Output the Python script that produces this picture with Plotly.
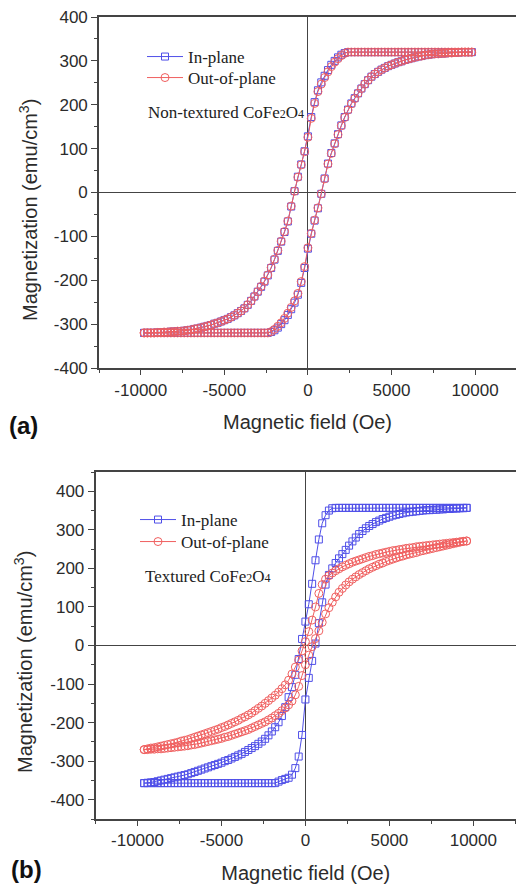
import plotly.graph_objects as go

# Applied field sweeps (Oe)
FIELD_A = [-9800, -9600, -9400, -9200, -9000, -8800, -8600, -8400, -8200, -8000,
           -7800, -7600, -7400, -7200, -7000, -6800, -6600, -6400, -6200, -6000,
           -5800, -5600, -5400, -5200, -5000, -4800, -4600, -4400, -4200, -4000,
           -3800, -3600, -3400, -3200, -3000, -2800, -2600, -2400, -2200, -2000,
           -1800, -1600, -1400, -1200, -1000, -800, -600, -400, -200, 0,
           200, 400, 600, 800, 1000, 1200, 1400, 1600, 1800, 2000,
           2200, 2400, 2600, 2800, 3000, 3200, 3400, 3600, 3800, 4000,
           4200, 4400, 4600, 4800, 5000, 5200, 5400, 5600, 5800, 6000,
           6200, 6400, 6600, 6800, 7000, 7200, 7400, 7600, 7800, 8000,
           8200, 8400, 8600, 8800, 9000, 9200, 9400, 9600, 9800]

FIELD_B = [-9600, -9400, -9200, -9000, -8800, -8600, -8400, -8200, -8000,
           -7800, -7600, -7400, -7200, -7000, -6800, -6600, -6400, -6200, -6000,
           -5800, -5600, -5400, -5200, -5000, -4800, -4600, -4400, -4200, -4000,
           -3800, -3600, -3400, -3200, -3000, -2800, -2600, -2400, -2200, -2000,
           -1800, -1600, -1400, -1200, -1000, -800, -600, -400, -200, 0,
           200, 400, 600, 800, 1000, 1200, 1400, 1600, 1800, 2000,
           2200, 2400, 2600, 2800, 3000, 3200, 3400, 3600, 3800, 4000,
           4200, 4400, 4600, 4800, 5000, 5200, 5400, 5600, 5800, 6000,
           6200, 6400, 6600, 6800, 7000, 7200, 7400, 7600, 7800, 8000,
           8200, 8400, 8600, 8800, 9000, 9200, 9400, 9600]

# Magnetization (emu/cm^3), listed in order of increasing field.
# "desc" = branch swept from +H to -H, "asc" = branch swept from -H to +H.

# (a) non-textured film
A_IN_DESC = [-320, -320, -320, -320, -319, -319, -318, -318, -317, -317,
             -316, -316, -315, -314, -313, -311, -310, -308, -306, -304,
             -302, -299, -297, -294, -291, -288, -284, -280, -275, -270,
             -264, -256, -247, -237, -226, -215, -203, -189, -172, -153,
             -133, -112, -90, -66, -32, 3, 36, 64, 94, 128,
             172, 206, 233, 251, 266, 279, 291, 300, 308, 314,
             318, 320, 320, 320, 320, 320, 320, 320, 320, 320,
             320, 320, 320, 320, 320, 320, 320, 320, 320, 320,
             320, 320, 320, 320, 320, 320, 320, 320, 320, 320,
             320, 320, 320, 320, 320, 320, 320, 320, 320]
A_IN_ASC = [-320, -320, -320, -320, -320, -320, -320, -320, -320, -320,
            -320, -320, -320, -320, -320, -320, -320, -320, -320, -320,
            -320, -320, -320, -320, -320, -320, -320, -320, -320, -320,
            -320, -320, -320, -320, -320, -320, -320, -320, -318, -314,
            -308, -300, -291, -279, -266, -251, -233, -206, -172, -128,
            -94, -64, -36, -3, 32, 66, 90, 112, 133, 153,
            172, 189, 203, 215, 226, 237, 247, 256, 264, 270,
            275, 280, 284, 288, 291, 294, 297, 299, 302, 304,
            306, 308, 310, 311, 313, 314, 315, 316, 316, 317,
            317, 318, 318, 319, 319, 320, 320, 320, 320]
A_OUT_DESC = [-320, -320, -320, -320, -319, -319, -318, -318, -317, -317,
              -316, -316, -315, -314, -313, -311, -310, -308, -306, -304,
              -302, -299, -297, -294, -291, -288, -284, -280, -275, -270,
              -264, -256, -247, -237, -226, -214, -202, -188, -171, -152,
              -132, -111, -89, -65, -31, 3, 35, 63, 93, 126,
              169, 203, 230, 247, 262, 275, 287, 297, 305, 312,
              317, 320, 320, 320, 320, 320, 320, 320, 320, 320,
              320, 320, 320, 320, 320, 320, 320, 320, 320, 320,
              320, 320, 320, 320, 320, 320, 320, 320, 320, 320,
              320, 320, 320, 320, 320, 320, 320, 320, 320]
A_OUT_ASC = [-320, -320, -320, -320, -320, -320, -320, -320, -320, -320,
             -320, -320, -320, -320, -320, -320, -320, -320, -320, -320,
             -320, -320, -320, -320, -320, -320, -320, -320, -320, -320,
             -320, -320, -320, -320, -320, -320, -320, -320, -317, -312,
             -305, -297, -287, -275, -262, -247, -230, -203, -169, -126,
             -93, -63, -35, -3, 31, 65, 89, 111, 132, 152,
             171, 188, 202, 214, 226, 237, 247, 256, 264, 270,
             275, 280, 284, 288, 291, 294, 297, 299, 302, 304,
             306, 308, 310, 311, 313, 314, 315, 316, 316, 317,
             317, 318, 318, 319, 319, 320, 320, 320, 320]

# (b) textured film
B_IN_DESC = [-357, -356, -355, -354, -352, -350, -348, -346, -344,
             -342, -340, -338, -336, -334, -331, -328, -325, -322, -319,
             -316, -313, -310, -307, -304, -300, -297, -293, -289, -285,
             -281, -276, -271, -266, -261, -255, -249, -242, -233, -223,
             -212, -199, -183, -160, -134, -108, -76, -35, 17, 62,
             107, 160, 221, 275, 317, 338, 350, 356, 357, 357,
             357, 357, 357, 357, 357, 357, 357, 357, 357, 357,
             357, 357, 357, 357, 357, 357, 357, 357, 357, 357,
             357, 357, 357, 357, 357, 357, 357, 357, 357, 357,
             357, 357, 357, 357, 357, 357, 357, 357]
B_IN_ASC = [-357, -357, -357, -357, -357, -357, -357, -357, -357,
            -357, -357, -357, -357, -357, -357, -357, -357, -357, -357,
            -357, -357, -357, -357, -357, -357, -357, -357, -357, -357,
            -357, -357, -357, -357, -357, -357, -357, -357, -357, -357,
            -357, -353, -349, -346, -343, -335, -318, -288, -232, -140,
            -84, -40, 5, 58, 112, 158, 183, 200, 214, 226,
            237, 248, 259, 270, 280, 289, 297, 304, 310, 315,
            320, 324, 328, 331, 334, 337, 339, 341, 343, 345,
            346, 347, 348, 349, 350, 351, 351, 352, 352, 353,
            353, 354, 354, 355, 355, 356, 356, 357]
B_OUT_DESC = [-270, -268, -266, -265, -263, -261, -259, -257, -255,
              -253, -251, -248, -246, -244, -241, -238, -235, -232, -229,
              -226, -223, -220, -217, -213, -210, -206, -202, -198, -194,
              -189, -185, -180, -175, -169, -163, -157, -150, -143, -136,
              -129, -121, -112, -102, -90, -74, -56, -38, -14, 10,
              36, 66, 100, 135, 158, 172, 181, 188, 194, 199,
              204, 208, 212, 216, 219, 222, 225, 228, 231, 233,
              236, 238, 240, 242, 244, 246, 247, 249, 250, 252,
              253, 254, 256, 257, 258, 259, 260, 261, 262, 263,
              264, 265, 266, 267, 268, 269, 270, 271]
B_OUT_ASC = [-270, -270, -269, -269, -268, -268, -267, -266, -265,
             -264, -263, -262, -261, -260, -258, -257, -255, -253, -251,
             -249, -247, -245, -243, -241, -238, -236, -233, -230, -227,
             -224, -221, -218, -214, -210, -206, -202, -198, -193, -188,
             -182, -176, -169, -162, -154, -144, -128, -106, -78, -50,
             -25, -3, 18, 38, 60, 82, 98, 112, 126, 138,
             148, 157, 165, 172, 178, 184, 189, 194, 199, 203,
             207, 211, 214, 218, 221, 224, 227, 230, 232, 235,
             237, 239, 241, 244, 246, 248, 250, 252, 254, 256,
             258, 260, 262, 264, 266, 268, 270, 271]

for name, field, arr in [("A_IN_DESC", FIELD_A, A_IN_DESC), ("A_IN_ASC", FIELD_A, A_IN_ASC),
                         ("A_OUT_DESC", FIELD_A, A_OUT_DESC), ("A_OUT_ASC", FIELD_A, A_OUT_ASC),
                         ("B_IN_DESC", FIELD_B, B_IN_DESC), ("B_IN_ASC", FIELD_B, B_IN_ASC),
                         ("B_OUT_DESC", FIELD_B, B_OUT_DESC), ("B_OUT_ASC", FIELD_B, B_OUT_ASC)]:
    assert len(arr) == len(field), (name, len(arr), len(field))

BLUE = "#4f4fe8"
RED = "#f06060"
W, H = 516, 884
SANS = "Arial, Liberation Sans, sans-serif"
SERIF = "Times New Roman, Liberation Serif, serif"
INK = "#2b2b2b"


def loop(field, desc, asc):
    """Full hysteresis loop: +H -> -H, then back to +H."""
    return field[::-1] + field, desc[::-1] + asc


fig = go.Figure()

panels = [
    ("x", "y", ("legend", "legend2"), FIELD_A, (A_IN_DESC, A_IN_ASC), (A_OUT_DESC, A_OUT_ASC)),
    ("x2", "y2", ("legend3", "legend4"), FIELD_B, (B_IN_DESC, B_IN_ASC), (B_OUT_DESC, B_OUT_ASC)),
]
for xa, ya, (lg_in, lg_out), field, inp, outp in panels:
    xs, ys = loop(field, *inp)
    fig.add_trace(go.Scatter(
        x=xs, y=ys, name="In-plane", mode="lines+markers", xaxis=xa, yaxis=ya, legend=lg_in,
        line=dict(color=BLUE, width=1),
        marker=dict(symbol="square-open", size=7, color=BLUE, line=dict(width=1, color=BLUE)),
    ))
    xs, ys = loop(field, *outp)
    fig.add_trace(go.Scatter(
        x=xs, y=ys, name="Out-of-plane", mode="lines+markers", xaxis=xa, yaxis=ya, legend=lg_out,
        line=dict(color=RED, width=1),
        marker=dict(symbol="circle-open", size=8, color=RED, line=dict(width=1, color=RED)),
    ))


def xaxis(domain, rng, anchor, label_gap, title_gap):
    return dict(
        domain=domain, range=rng, anchor=anchor,
        tickvals=[-10000, -5000, 0, 5000, 10000],
        ticktext=["-10000", "-5000", "0", "5000", "10000"],
        ticks="outside", ticklen=5, tickwidth=1.3, tickcolor="#444",
        ticklabelstandoff=label_gap,
        minor=dict(dtick=2500, tick0=0, ticks="outside", ticklen=3, tickwidth=1.2, tickcolor="#444"),
        showline=True, linecolor="#444", linewidth=1.6, mirror=True,
        showgrid=False, zeroline=True, zerolinecolor="#444", zerolinewidth=1.4,
        tickfont=dict(family=SANS, size=17, color=INK),
        title=dict(text="Magnetic field (Oe)", font=dict(family=SANS, size=20, color=INK),
                   standoff=title_gap),
        automargin=False,
    )


def yaxis(domain, rng, anchor):
    return dict(
        domain=domain, range=rng, anchor=anchor,
        tickvals=[-400, -300, -200, -100, 0, 100, 200, 300, 400],
        ticktext=["-400", "-300", "-200", "-100", "0", "100", "200", "300", "400"],
        ticks="outside", ticklen=6, tickwidth=1.3, tickcolor="#444",
        minor=dict(dtick=50, tick0=0, ticks="outside", ticklen=3, tickwidth=1.2, tickcolor="#444"),
        showline=True, linecolor="#444", linewidth=1.6, mirror=False,
        showgrid=False, zeroline=True, zerolinecolor="#444", zerolinewidth=1.4,
        tickfont=dict(family=SANS, size=17, color=INK),
        automargin=False,
    )


def legend(x, y_mid):
    return dict(
        x=x / W, y=1 - y_mid / H, xanchor="left", yanchor="middle",
        bgcolor="rgba(0,0,0,0)", borderwidth=0,
        font=dict(family=SERIF, size=17, color="#222"),
        itemwidth=36,
    )


SUB = '<span style="font-size:12px">{}</span>'
annotations = [
    dict(text="Magnetization (emu/cm<sup>3</sup>)", x=28 / W, y=1 - 210 / H, textangle=-90,
         xanchor="center", yanchor="middle", font=dict(family=SANS, size=20, color=INK)),
    dict(text="Magnetization (emu/cm<sup>3</sup>)", x=23 / W, y=1 - 662 / H, textangle=-90,
         xanchor="center", yanchor="middle", font=dict(family=SANS, size=20, color=INK)),
    dict(text="<b>(a)</b>", x=7 / W, y=1 - 425 / H, xanchor="left", yanchor="middle",
         font=dict(family=SANS, size=24, color="#111")),
    dict(text="<b>(b)</b>", x=9 / W, y=1 - 869 / H, xanchor="left", yanchor="middle",
         font=dict(family=SANS, size=24, color="#111")),
    dict(text="Non-textured CoFe" + SUB.format("2") + "O" + SUB.format("4"),
         x=146 / W, y=1 - 112 / H, xanchor="left", yanchor="middle",
         font=dict(family=SERIF, size=17, color="#222")),
    dict(text="Textured CoFe" + SUB.format("2") + "O" + SUB.format("4"),
         x=143 / W, y=1 - 576 / H, xanchor="left", yanchor="middle",
         font=dict(family=SERIF, size=17, color="#222")),
]
for a in annotations:
    a.update(xref="paper", yref="paper", showarrow=False)

fig.update_layout(
    width=W, height=H,
    margin=dict(l=0, r=0, t=0, b=0),
    paper_bgcolor="white", plot_bgcolor="white",
    xaxis=xaxis([99 / W, 1.0], [-12500, 12450], "y", 1, 16),
    yaxis=yaxis([1 - 368 / H, 1 - 17 / H], [-400, 400], "x"),
    xaxis2=xaxis([95.5 / W, 1.0], [-12500, 12540], "y2", 0, 18),
    yaxis2=yaxis([1 - 819 / H, 1 - 472 / H], [-450, 450], "x2"),
    legend=legend(142, 57),
    legend2=legend(142, 78),
    legend3=legend(135, 520),
    legend4=legend(135, 542),
    annotations=annotations,
    showlegend=True,
)

fig.write_html("out.html")
